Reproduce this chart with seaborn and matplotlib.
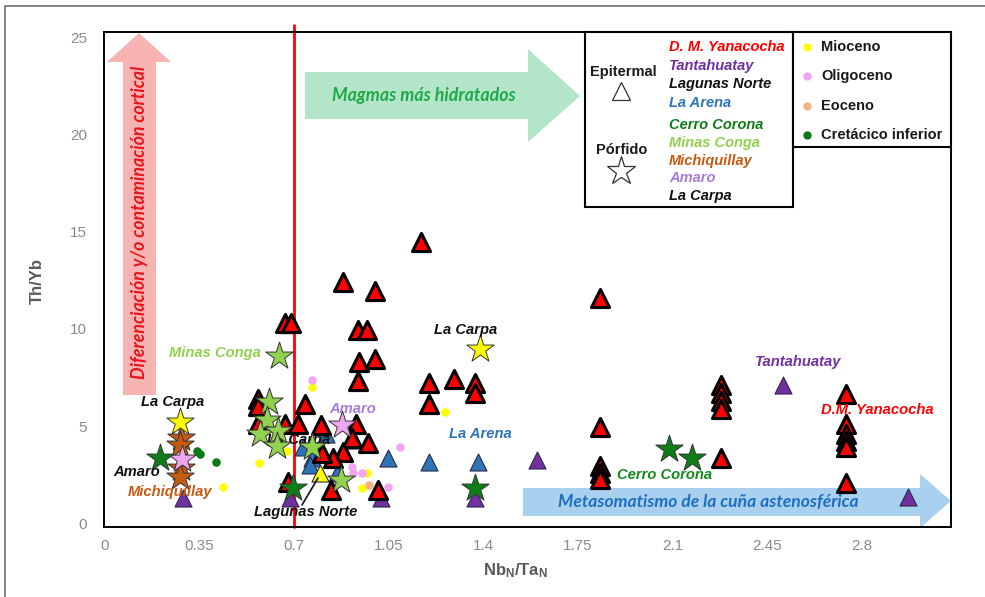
import matplotlib
matplotlib.use("Agg")
import matplotlib.pyplot as plt
from matplotlib.patches import Polygon, Rectangle
import seaborn as sns

# ---------------- data ----------------
# Epitermal deposits (triangles)
yanacocha_x = [1.17, 0.88, 1.00, 0.665, 0.69, 0.935, 0.97, 0.94, 1.00, 0.935, 1.20, 1.29, 1.37, 1.37, 1.20,
               1.83, 1.83, 1.83, 1.83, 1.83, 2.28, 2.28, 2.28, 2.28, 2.28, 2.74, 2.74, 2.74, 2.74, 2.74, 2.74,
               0.566, 0.566, 0.566, 0.666, 0.714, 0.74, 0.80, 0.93, 0.913, 0.973, 0.88, 0.843, 0.803,
               0.677, 0.836, 1.01]
yanacocha_y = [14.5, 12.4, 11.95, 10.3, 10.3, 9.95, 9.95, 8.3, 8.45, 7.3, 7.2, 7.45, 7.2, 6.7, 6.15,
               11.6, 4.97, 2.95, 2.6, 2.25, 7.1, 6.7, 6.3, 5.9, 3.33, 6.67, 5.1, 4.6, 4.25, 3.9, 2.05,
               6.4, 6.05, 5.13, 5.13, 5.13, 6.15, 5.03, 5.13, 4.4, 4.15, 3.64, 3.38, 3.6,
               2.1, 1.7, 1.7]
tantahuatay_x = [1.60, 2.51, 2.97, 1.37, 1.02, 0.684, 0.288]
tantahuatay_y = [3.23, 7.13, 1.33, 1.28, 1.28, 1.28, 1.28]
la_arena_x = [0.732, 0.766, 0.758, 0.858, 0.906, 1.047, 1.20, 1.38, 0.82]
la_arena_y = [3.9, 3.33, 2.97, 2.6, 4.26, 3.38, 3.13, 3.13, 4.6]
lagunas_x = [0.795]
lagunas_y = [2.56]

# Porfido deposits (stars)
la_carpa_x = [1.387, 0.277]
la_carpa_y = [8.97, 5.23]
michiquillay_x = [0.28, 0.278, 0.28, 0.278]
michiquillay_y = [4.36, 4.0, 2.82, 2.36]
amaro_x = [0.285, 0.876]
amaro_y = [3.28, 5.03]
cerro_corona_x = [0.203, 0.695, 1.368, 2.086, 2.171]
cerro_corona_y = [3.38, 1.8, 1.8, 3.8, 3.38]
minas_conga_x = [0.606, 0.599, 0.573, 0.64, 0.636, 0.766, 0.873, 0.643]
minas_conga_y = [6.26, 5.33, 4.6, 4.77, 3.95, 3.9, 2.2, 8.6]

# Age dots
mioceno_x = [0.436, 0.57, 0.766, 0.969, 0.95, 0.674, 1.257, 0.72]
mioceno_y = [1.85, 3.08, 7.0, 2.56, 1.8, 3.74, 5.7, 5.1]
oligoceno_x = [0.766, 1.091, 0.913, 0.917, 0.953, 1.047]
oligoceno_y = [7.38, 3.9, 2.87, 2.6, 2.6, 1.85]
eoceno_x = [0.977]
eoceno_y = [1.95]
cretacico_x = [0.34, 0.351, 0.41]
cretacico_y = [3.74, 3.54, 3.13]

x_ticks = [0, 0.35, 0.7, 1.05, 1.4, 1.75, 2.1, 2.45, 2.8]
x_tick_labels = ["0", "0.35", "0.7", "1.05", "1.4", "1.75", "2.1", "2.45", "2.8"]
y_ticks = [0, 5, 10, 15, 20, 25]

site_names = ["D. M. Yanacocha", "Tantahuatay", "Lagunas Norte", "La Arena",
              "Cerro Corona", "Minas Conga", "Michiquillay", "Amaro", "La Carpa"]
age_names = ["Mioceno", "Oligoceno", "Eoceno", "Cretácico inferior"]

# ---------------- colours ----------------
C_RED = "#ff0000"
C_PURPLE = "#7030a0"
C_BLUE = "#2e75b6"
C_DKGREEN = "#0e7d18"
C_LTGREEN = "#92d050"
C_BROWN = "#c55a11"
C_AMARO_TXT = "#a77bdc"
C_AMARO = "#eea6f0"
C_YELLOW = "#ffff00"
C_PINKDOT = "#f2a6f2"
C_PEACH = "#f4b183"
C_CRET = "#0a7a14"
site_colors = [C_RED, C_PURPLE, "#111111", C_BLUE, C_DKGREEN, C_LTGREEN, C_BROWN, C_AMARO_TXT, "#111111"]
age_colors = [C_YELLOW, C_PINKDOT, C_PEACH, C_CRET]

sns.set_theme(style="white")
plt.rcParams["font.family"] = ["Liberation Sans", "DejaVu Sans"]

fig = plt.figure(figsize=(9.85, 5.97), dpi=100)
ax = fig.add_axes([104 / 985, 1 - 527 / 597, 847 / 985, 495 / 597])

def axp(px, py):
    """pixel position in the reference -> axes fraction"""
    return ((px - 104) / 847, (527 - py) / 495)

# ---------------- arrows (background) ----------------
pink = [(123, 395), (156, 395), (156, 62), (171, 62), (139, 33), (107, 62), (123, 62)]
ax.add_patch(Polygon([axp(*p) for p in pink], closed=True, transform=ax.transAxes,
                     facecolor="#f8b3b3", edgecolor="none", zorder=1))
green = [(305, 72), (528, 72), (528, 49), (580, 96), (528, 142), (528, 119), (305, 119)]
ax.add_patch(Polygon([axp(*p) for p in green], closed=True, transform=ax.transAxes,
                     facecolor="#b3e6c8", edgecolor="none", zorder=1))
blue = [(523, 488), (920, 488), (920, 474), (951, 501), (920, 528), (920, 516), (523, 516)]
ax.add_patch(Polygon([axp(*p) for p in blue], closed=True, transform=ax.transAxes,
                     facecolor="#a9d0ee", edgecolor="none", zorder=1))

arrow_font = ["Lato", "DejaVu Sans"]
ax.text(*axp(140, 222), "Diferenciación y/o contaminación cortical", transform=ax.transAxes,
        rotation=90, ha="center", va="center", color="#e8141a", fontsize=12.8,
        fontweight="bold", fontstyle="italic", family=arrow_font, zorder=2)
ax.text(*axp(424, 96), "Magmas más hidratados", transform=ax.transAxes,
        ha="center", va="center", color="#20a84a", fontsize=12.8,
        fontweight="bold", fontstyle="italic", family=arrow_font, zorder=2)
ax.text(*axp(708, 502), "Metasomatismo de la cuña astenosférica", transform=ax.transAxes,
        ha="center", va="center", color="#1f6fc0", fontsize=12.6,
        fontweight="bold", fontstyle="italic", family=arrow_font, zorder=2)

# red reference line
ax.axvline(0.7, ymin=0, ymax=1.014, color="#ff0000", lw=2.0, zorder=2, clip_on=False)

# ---------------- scatter marks ----------------
dot_kw = dict(marker="o", s=38, linewidth=0, ax=ax, legend=False, zorder=3)
sns.scatterplot(x=mioceno_x, y=mioceno_y, color=C_YELLOW, **dot_kw)
sns.scatterplot(x=oligoceno_x, y=oligoceno_y, color=C_PINKDOT, **dot_kw)
sns.scatterplot(x=eoceno_x, y=eoceno_y, color=C_PEACH, **dot_kw)
sns.scatterplot(x=cretacico_x, y=cretacico_y, color=C_CRET, **dot_kw)

tri_kw = dict(marker="^", s=150, edgecolor="#2a2a4a", linewidth=0.8, ax=ax, legend=False, zorder=4)
sns.scatterplot(x=la_arena_x, y=la_arena_y, color=C_BLUE, **tri_kw)
sns.scatterplot(x=tantahuatay_x, y=tantahuatay_y, color=C_PURPLE, **tri_kw)
sns.scatterplot(x=lagunas_x, y=lagunas_y, color=C_YELLOW, **tri_kw)
sns.scatterplot(x=yanacocha_x, y=yanacocha_y, color=C_RED, marker="^", s=170,
                edgecolor="black", linewidth=2.2, ax=ax, legend=False, zorder=5)

star_kw = dict(marker="*", s=430, edgecolor="#333333", linewidth=0.7, ax=ax, legend=False, zorder=6)
sns.scatterplot(x=minas_conga_x, y=minas_conga_y, color=C_LTGREEN, **star_kw)
sns.scatterplot(x=michiquillay_x, y=michiquillay_y, color=C_BROWN, **star_kw)
sns.scatterplot(x=amaro_x, y=amaro_y, color=C_AMARO, **star_kw)
sns.scatterplot(x=cerro_corona_x, y=cerro_corona_y, color=C_DKGREEN, **star_kw)
sns.scatterplot(x=la_carpa_x, y=la_carpa_y, color=C_YELLOW, **star_kw)

# ---------------- point labels ----------------
lab = dict(transform=ax.transAxes, ha="center", va="center", fontsize=10.6,
           fontweight="bold", fontstyle="italic")
ax.text(*axp(215, 353), "Minas Conga", color=C_LTGREEN, zorder=7, **lab)
ax.text(*axp(466, 330), "La Carpa", color="#111111", zorder=7, **lab)
ax.text(*axp(173, 402), "La Carpa", color="#111111", zorder=7, **lab)
ax.text(*axp(137, 472), "Amaro", color="#111111", zorder=7, **lab)
ax.text(*axp(170, 492), "Michiquillay", color=C_BROWN, zorder=7, **lab)
ax.text(*axp(353, 409), "Amaro", color=C_AMARO_TXT, zorder=7, **lab)
ax.text(*axp(299, 440), "La Carpa", color="#111111", zorder=4.5, **lab)
ax.text(*axp(480, 434), "La Arena", color=C_BLUE, zorder=7, **lab)
ax.text(*axp(306, 512), "Lagunas Norte", color="#111111", zorder=7, **lab)
ax.text(*axp(798, 362), "Tantahuatay", color=C_PURPLE, zorder=7, **lab)
ax.text(*axp(877, 410), "D.M. Yanacocha", color=C_RED, zorder=7, **lab)
ax.text(*axp(665, 475), "Cerro Corona", color="#138a1c", zorder=7, **lab)
ax.annotate("", xy=axp(318, 478), xytext=axp(302, 505), xycoords="axes fraction",
            textcoords="axes fraction",
            arrowprops=dict(arrowstyle="-", color="#111111", lw=1.2, shrinkA=0, shrinkB=0), zorder=7)

# ---------------- legend boxes ----------------
x0, y0 = axp(585, 207)
x1, y1 = axp(793, 32)
ax.add_patch(Rectangle((x0, y0), x1 - x0, y1 - y0, transform=ax.transAxes, fill=True,
                       facecolor="white", edgecolor="black", lw=1.5, zorder=8, clip_on=False))
x2, y2 = axp(951, 147)
ax.add_patch(Rectangle((x1, y2), x2 - x1, y1 - y2, transform=ax.transAxes, fill=True,
                       facecolor="white", edgecolor="black", lw=1.5, zorder=8, clip_on=False))

leg = dict(transform=ax.transAxes, zorder=9, fontsize=10.5)
ax.text(*axp(623, 72), "Epitermal", ha="center", va="center", color="#1a1a1a",
        fontweight="bold", **leg)
ax.text(*axp(622, 150), "Pórfido", ha="center", va="center", color="#1a1a1a",
        fontweight="bold", **leg)
ax.plot(*axp(621, 91), marker="^", ms=13, mfc="white", mec="#333333", mew=0.9,
        transform=ax.transAxes, zorder=9, clip_on=False)
ax.plot(*axp(621, 171), marker="*", ms=21, mfc="white", mec="#333333", mew=0.9,
        transform=ax.transAxes, zorder=9, clip_on=False)

site_y = [47, 66, 84, 103, 125, 143, 161, 178, 196]
for name, col, py in zip(site_names, site_colors, site_y):
    ax.text(*axp(669, py), name, ha="left", va="center", color=col,
            fontweight="bold", fontstyle="italic", **leg)

age_y = [47, 76, 106, 135]
for name, col, py in zip(age_names, age_colors, age_y):
    ax.plot(*axp(807, py), marker="o", ms=6, mfc=col, mec="none",
            transform=ax.transAxes, zorder=9, clip_on=False)
    ax.text(*axp(821, py), name, ha="left", va="center", color="#1a1a1a",
            fontweight="bold", **leg)

# ---------------- axes styling ----------------
ax.set_xlim(-0.003, 3.13)
ax.set_ylim(-0.2, 25.3)
ax.set_xticks(x_ticks)
ax.set_xticklabels(x_tick_labels)
ax.set_yticks(y_ticks)
ax.tick_params(axis="both", length=0, labelsize=11, labelcolor="#8a8a8a")
ax.tick_params(axis="x", pad=9)
ax.tick_params(axis="y", pad=12)
for sp in ax.spines.values():
    sp.set_color("black")
    sp.set_linewidth(1.4)
    sp.set_zorder(8)

ax.set_xlabel(r"Nb$\mathregular{_N}$/Ta$\mathregular{_N}$", fontsize=12, fontweight="bold",
              color="#595959")
ax.set_ylabel("Th/Yb", fontsize=12, fontweight="bold", color="#595959")
ax.xaxis.label.set_va("center")
ax.yaxis.label.set_va("center")
ax.xaxis.set_label_coords(*axp(515, 571))
ax.yaxis.set_label_coords(*axp(37, 281))

# outer frame of the figure
fig.add_artist(Rectangle((5 / 985, -0.02), 1.0, 1 - 6 / 597 + 0.02, transform=fig.transFigure,
                         fill=False, edgecolor="#6e6e6e", lw=1.2))

fig.savefig("out.png", dpi=100, facecolor="white")
